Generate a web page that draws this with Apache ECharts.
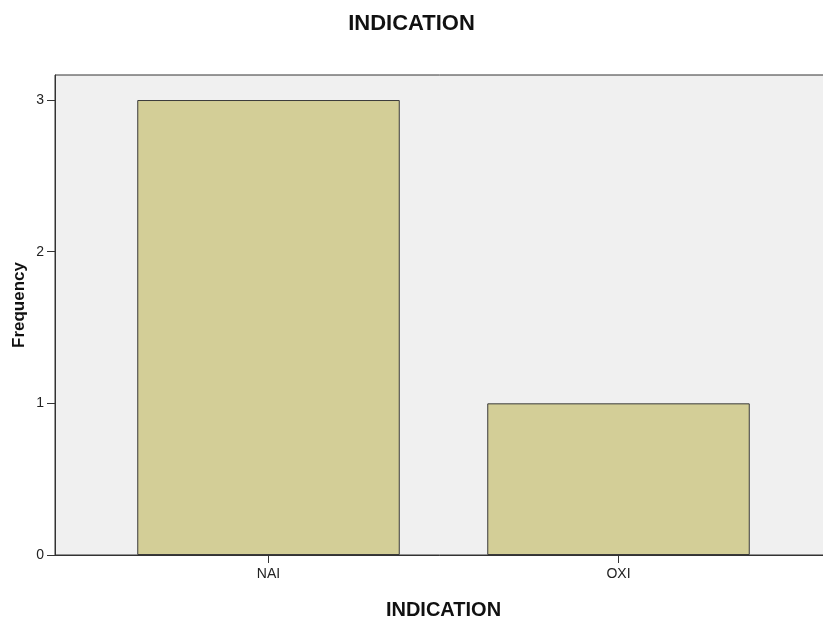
<!DOCTYPE html>
<html><head><meta charset="utf-8">
<script src="https://cdn.jsdelivr.net/npm/echarts@6/dist/echarts.min.js"></script>
<style>html,body{margin:0;padding:0;background:#fff}#c{width:823px;height:621px}</style>
</head><body><div id="c"></div>
<script>
var categories = ['NAI', 'OXI'];
var frequency = [3, 1];
var yTicks = [0, 1, 2, 3];
var titleText = 'INDICATION';
var xName = 'INDICATION';
var yName = 'Frequency';

var chart = echarts.init(document.getElementById('c'));
var font = 'Arial, "Liberation Sans", sans-serif';
chart.setOption({
  animation: false,
  backgroundColor: '#ffffff',
  title: {
    text: titleText, left: 'center', top: 8,
    textStyle: {fontFamily: font, fontSize: 22, fontWeight: 'bold', color: '#111'}
  },
  grid: [
    {left: 93.5, right: 29.5, top: 75, bottom: 66, containLabel: false, outerBoundsMode: 'none'},
    {left: 55, right: -5, top: 75, bottom: 66, show: true, backgroundColor: '#f0f0f0', borderColor: '#333', borderWidth: 1, z: 0, outerBoundsMode: 'none'}
  ],
  xAxis: [
    {
      type: 'category', gridIndex: 0, data: categories,
      axisLine: {show: false},
      axisTick: {show: true, alignWithLabel: true, length: 8, lineStyle: {color: '#333'}},
      axisLabel: {fontFamily: font, fontSize: 14, color: '#222', margin: 12},
      name: xName, nameLocation: 'middle', nameGap: 45, nameMoveOverlap: false,
      nameTextStyle: {fontFamily: font, fontSize: 20, fontWeight: 'bold', color: '#111'}
    },
    {
      type: 'value', gridIndex: 1, min: 0, max: 1,
      axisLine: {show: true, lineStyle: {color: '#333', width: 1}},
      axisTick: {show: false}, axisLabel: {show: false}, splitLine: {show: false}
    }
  ],
  yAxis: [
    {
      type: 'value', gridIndex: 0, min: 0, max: 3.165, interval: 1,
      offset: 38.5,
      axisLine: {show: true, lineStyle: {color: '#333', width: 1}},
      axisTick: {show: true, length: 8, lineStyle: {color: '#333'}, customValues: yTicks},
      axisLabel: {fontFamily: font, fontSize: 14, color: '#222', margin: 11, customValues: yTicks},
      splitLine: {show: false},
      name: yName, nameLocation: 'middle', nameGap: 27, nameRotate: 90, nameMoveOverlap: false,
      nameTextStyle: {fontFamily: font, fontSize: 17, fontWeight: 'bold', color: '#111', padding: [0, 0, 0, 20]}
    },
    {
      type: 'value', gridIndex: 1, min: 0, max: 1,
      axisLine: {show: false}, axisTick: {show: false}, axisLabel: {show: false}, splitLine: {show: false}
    }
  ],
  series: [{
    type: 'bar', xAxisIndex: 0, yAxisIndex: 0, data: frequency,
    barCategoryGap: '25%', z: 5,
    itemStyle: {color: '#d3ce97', borderColor: '#3a3a3a', borderWidth: 1}
  }]
});
</script></body></html>
